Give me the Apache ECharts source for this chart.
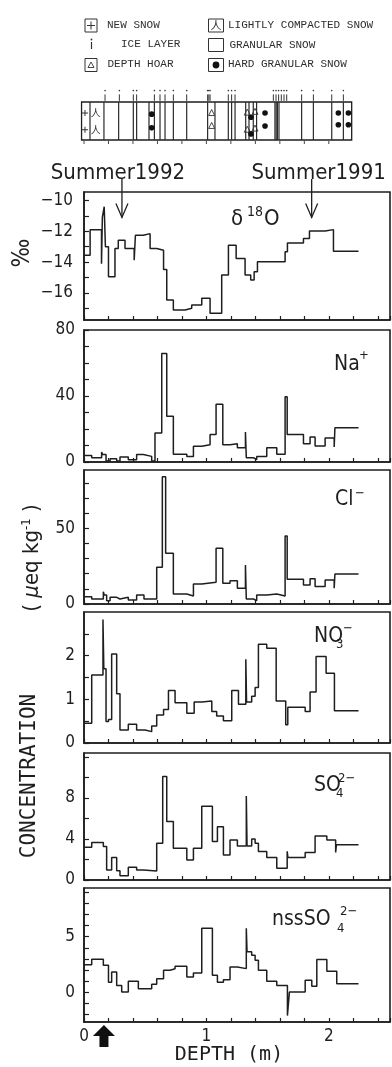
<!DOCTYPE html>
<html><head><meta charset="utf-8">
<script src="https://cdn.jsdelivr.net/npm/echarts@6/dist/echarts.min.js"></script>
<style>html,body{margin:0;padding:0;background:#fff}#c{width:392px;height:1067px}</style>
</head><body><div id="c"></div>
<script>
// ---------- DATA ----------
const depthTickLabels = [0, 1, 2];
// step series: [depth at top of sample (m), value]
const d18O = [[0,-13.55],[0.05,-11.89],[0.143,-14.1],[0.15,-11.1],[0.165,-10.4],[0.175,-13.0],[0.2,-14.95],[0.253,-13.12],[0.28,-12.58],[0.335,-13.12],[0.41,-13.87],[0.42,-12.26],[0.485,-12.15],[0.54,-13.12],[0.594,-13.23],[0.65,-14.47],[0.676,-16.45],[0.73,-17.1],[0.826,-16.99],[0.88,-16.77],[0.962,-16.34],[1.03,-17.31],[1.125,-14.84],[1.18,-12.9],[1.243,-13.76],[1.316,-14.84],[1.362,-15.16],[1.39,-14.62],[1.417,-13.98],[1.643,-13.33],[1.662,-12.75],[1.793,-12.47],[1.842,-11.98],[1.97,-11.89],[2.038,-13.29],[2.243,-13.29]];
const naPlus = [[0,4.0],[0.063,2.6],[0.144,6.1],[0.152,4.6],[0.18,0.6],[0.213,2.0],[0.267,0.6],[0.294,3.0],[0.362,1.4],[0.43,4.5],[0.485,3.4],[0.553,0.6],[0.58,17.6],[0.635,65.8],[0.676,27.7],[0.73,4.7],[0.84,3.4],[0.894,9.5],[0.962,10.5],[1.03,16.6],[1.079,35.0],[1.134,10.5],[1.193,11.1],[1.253,8.7],[1.319,18.2],[1.326,2.6],[1.384,1.4],[1.411,3.4],[1.493,8.7],[1.575,4.7],[1.643,39.5],[1.66,16.6],[1.793,11.1],[1.847,15.2],[1.888,9.7],[1.97,14.6],[2.044,9.1],[2.05,20.7],[2.243,20.7]];
const clMinus = [[0,4.8],[0.063,3.3],[0.158,8.1],[0.165,5.9],[0.185,2.2],[0.213,4.4],[0.267,3.3],[0.294,4.4],[0.362,2.6],[0.43,5.9],[0.49,3.3],[0.594,24.2],[0.64,84],[0.667,33.5],[0.73,6.6],[0.84,5.3],[0.894,13.2],[0.962,14.3],[1.079,36.8],[1.134,13.7],[1.193,15.4],[1.253,10.4],[1.319,25.8],[1.326,3.3],[1.384,2.2],[1.411,5.9],[1.493,6.6],[1.575,5.3],[1.643,44.9],[1.66,16.3],[1.793,12.6],[1.847,16.7],[1.888,11.5],[1.97,15.9],[2.044,10.4],[2.05,19.8],[2.243,19.8]];
const no3Minus = [[0,0.45],[0.063,1.56],[0.155,2.83],[0.162,1.7],[0.18,0.49],[0.2,0.54],[0.226,2.04],[0.267,1.13],[0.294,0.3],[0.362,0.43],[0.43,0.3],[0.499,0.26],[0.553,0.39],[0.594,0.64],[0.65,0.77],[0.69,1.2],[0.744,0.92],[0.84,0.68],[0.9,0.94],[0.962,0.96],[1.044,0.72],[1.084,0.62],[1.139,0.51],[1.207,1.2],[1.262,0.89],[1.322,1.92],[1.328,0.94],[1.37,1.07],[1.398,1.27],[1.425,2.26],[1.493,2.17],[1.57,0.96],[1.648,0.42],[1.665,0.82],[1.807,0.72],[1.847,1.17],[1.896,1.98],[1.978,1.6],[2.046,0.74],[2.243,0.74]];
const so4 = [[0,3.2],[0.063,3.66],[0.158,3.27],[0.185,0.98],[0.226,2.2],[0.267,0.9],[0.294,0.42],[0.362,1.24],[0.43,0.98],[0.485,0.88],[0.594,3.6],[0.643,10.1],[0.676,5.7],[0.73,3.1],[0.84,1.96],[0.894,3.1],[0.962,7.2],[1.049,3.76],[1.09,5.2],[1.139,2.45],[1.193,3.9],[1.253,3.33],[1.326,8.2],[1.332,3.33],[1.37,4.0],[1.398,3.6],[1.425,2.78],[1.493,2.2],[1.575,1.14],[1.66,2.8],[1.666,2.2],[1.807,2.68],[1.888,4.3],[1.984,3.9],[2.056,2.68],[2.062,3.43],[2.243,3.43]];
const nssSo4 = [[0,2.48],[0.063,2.97],[0.158,2.42],[0.2,0.9],[0.226,1.82],[0.267,0.6],[0.308,0],[0.362,0.97],[0.444,0.3],[0.553,0.7],[0.594,1.2],[0.65,1.97],[0.703,2.1],[0.744,2.33],[0.84,1.36],[0.894,1.73],[0.962,5.76],[1.049,1.52],[1.09,0.9],[1.139,1.12],[1.193,2.27],[1.253,2.12],[1.326,5.76],[1.332,3.64],[1.37,3.33],[1.398,2.88],[1.425,1.97],[1.493,0.97],[1.575,0.6],[1.662,-2.12],[1.678,0],[1.807,1.06],[1.861,0.52],[1.902,2.94],[1.984,1.88],[2.065,0.76],[2.243,0.76]];

// y axis ticks and labels per panel
const d18OTicks = [-17,-16,-15,-14,-13,-12,-11,-10], d18OLabels = [-16,-14,-12,-10];
const naTicks = [0,10,20,30,40,50,60,70,80], naLabels = [0,40,80];
const clTicks = [0,10,20,30,40,50,60,70,80], clLabels = [0,50];
const no3Ticks = [0,0.5,1,1.5,2,2.5], no3Labels = [0,1,2];
const so4Ticks = [0,2,4,6,8,10,12], so4Labels = [0,4,8];
const nssTicks = [-2,-1,0,1,2,3,4,5,6,7,8,9], nssLabels = [0,5];

// summer markers
const summerLabels = ['Summer1992', 'Summer1991'];
const summerDepths = [0.31, 1.86];
const surfaceArrowDepth = 0.163;

// stratigraphy column
const stratExtent = [-0.02, 2.187];
const stratLines = [0.049,0.163,0.283,0.403,0.43,0.531,0.575,0.621,0.662,0.73,0.839,1.01,1.07,1.179,1.206,1.234,1.321,1.348,1.383,1.41,1.56,1.57,1.58,1.593,1.778,1.874,2.024,2.119];
const iceLayers = [0.172,0.289,0.403,0.43,0.575,0.621,0.662,0.73,0.839,1.01,1.02,1.03,1.179,1.206,1.234,1.547,1.569,1.59,1.612,1.634,1.656,1.778,1.874,2.024,2.119];
const stratSymbols = [[0.008,0.71,'new'],[0.008,0.27,'new'],[0.095,0.71,'light'],[0.095,0.27,'light'],[0.553,0.68,'hard'],[0.553,0.32,'hard'],[1.043,0.71,'hoar'],[1.043,0.37,'hoar'],[1.334,0.72,'hoar'],[1.334,0.27,'hoar'],[1.364,0.6,'hard'],[1.364,0.16,'hard'],[1.397,0.74,'hoar'],[1.397,0.3,'hoar'],[1.479,0.71,'hard'],[1.479,0.37,'hard'],[2.078,0.71,'hard'],[2.078,0.4,'hard'],[2.16,0.71,'hard'],[2.16,0.4,'hard']];
const stratTicks = [0,0.2,0.4,0.6,0.8,1.0,1.2,1.4,1.6,1.8,2.0];
const legendItems = [['new','NEW SNOW'],['ice','ICE LAYER'],['hoar','DEPTH HOAR'],['light','LIGHTLY COMPACTED SNOW'],['granular','GRANULAR SNOW'],['hard','HARD GRANULAR SNOW']];

// ---------- CHART ----------
const INK = '#1e1e1e';
const NUMFONT = '"DejaVu Sans Condensed", "DejaVu Sans", sans-serif';
const MONO = '"Liberation Mono", "DejaVu Sans Mono", monospace';
const L = 84, W = 306;
const panels = [
  {top:192, height:128, min:-17.75, max:-9.45, ticks:d18OTicks, labels:d18OLabels, data:d18O, margin:11},
  {top:330, height:132, min:0, max:80, ticks:naTicks, labels:naLabels, data:naPlus, margin:9},
  {top:470, height:134, min:0, max:88.5, ticks:clTicks, labels:clLabels, data:clMinus, margin:9},
  {top:612, height:131, min:0, max:3, ticks:no3Ticks, labels:no3Labels, data:no3Minus, margin:9},
  {top:753, height:127, min:0, max:12.4, ticks:so4Ticks, labels:so4Labels, data:so4, margin:9},
  {top:888, height:134, min:-2.7, max:9.4, ticks:nssTicks, labels:nssLabels, data:nssSo4, margin:9}
];
const grids = [], xAxes = [], yAxes = [], series = [];
panels.forEach((p, i) => {
  grids.push({left:L, width:W, top:p.top, height:p.height, show:true, borderColor:INK, borderWidth:1.6});
  xAxes.push({gridIndex:i, type:'value', min:0, max:2.5, interval:0.2,
    axisLine:{onZero:false, lineStyle:{color:INK, width:1.6}},
    axisTick:{inside:true, length:4, lineStyle:{color:INK, width:1.2}},
    axisLabel:{show:i === 5, customValues:depthTickLabels, formatter:v => String(v), fontFamily:NUMFONT, fontSize:17, color:INK, margin:6},
    splitLine:{show:false}});
  yAxes.push({gridIndex:i, type:'value', min:p.min, max:p.max,
    axisLine:{show:true, onZero:false, lineStyle:{color:INK, width:1.6}},
    axisTick:{show:true, inside:true, length:5, customValues:p.ticks, lineStyle:{color:INK, width:1.2}},
    axisLabel:{customValues:p.labels, formatter:v => String(v).replace('-', '\u2212'), fontFamily:NUMFONT, fontSize:17, color:INK, margin:p.margin},
    splitLine:{show:false}});
  series.push({type:'line', xAxisIndex:i, yAxisIndex:i, data:p.data, step:'end', showSymbol:false, silent:true,
    lineStyle:{color:INK, width:1.5}, clip:false});
});
// stratigraphy grid
grids.push({left:L, width:W, top:102, height:38, show:false});
xAxes.push({gridIndex:6, type:'value', min:0, max:2.5, show:false});
yAxes.push({gridIndex:6, type:'value', min:0, max:1, show:false});
series.push({type:'custom', xAxisIndex:6, yAxisIndex:6, silent:true, clip:false, data:[[0,0]],
  renderItem:(params, api) => {
    const P = (x, y) => api.coord([x, y]);
    const ch = [];
    const a = P(stratExtent[0], 1), b = P(stratExtent[1], 0);
    ch.push({type:'rect', shape:{x:a[0], y:a[1], width:b[0]-a[0], height:b[1]-a[1]}, style:{fill:'none', stroke:INK, lineWidth:1.3}});
    stratLines.forEach(d => {
      const t = P(d, 1), u = P(d, 0);
      ch.push({type:'line', shape:{x1:t[0], y1:t[1], x2:u[0], y2:u[1]}, style:{stroke:'#2a2a2a', lineWidth:1.2}});
    });
    iceLayers.forEach(d => {
      const t = P(d, 1.03), u = P(d, 1.2), dot = P(d, 1.3);
      ch.push({type:'line', shape:{x1:t[0], y1:t[1], x2:u[0], y2:u[1]}, style:{stroke:'#333', lineWidth:1}});
      ch.push({type:'circle', shape:{cx:dot[0], cy:dot[1], r:0.8}, style:{fill:'#333'}});
    });
    stratSymbols.forEach(s => {
      const c = P(s[0], s[1]);
      if (s[2] === 'new') {
        ch.push({type:'line', shape:{x1:c[0]-3, y1:c[1], x2:c[0]+3, y2:c[1]}, style:{stroke:'#333', lineWidth:1}});
        ch.push({type:'line', shape:{x1:c[0], y1:c[1]-3, x2:c[0], y2:c[1]+3}, style:{stroke:'#333', lineWidth:1}});
      } else if (s[2] === 'light') {
        ch.push({type:'text', style:{text:'人', x:c[0], y:c[1], align:'center', verticalAlign:'middle', font:'10px "Noto Sans CJK SC"', fill:'#333'}});
      } else if (s[2] === 'hoar') {
        ch.push({type:'polygon', shape:{points:[[c[0], c[1]-3.5],[c[0]-3, c[1]+2.5],[c[0]+3, c[1]+2.5]]}, style:{fill:'none', stroke:'#333', lineWidth:0.9}});
      } else {
        ch.push({type:'circle', shape:{cx:c[0], cy:c[1], r:2.8}, style:{fill:'#111'}});
      }
    });
    stratTicks.forEach(t => {
      const q = P(t, 0);
      ch.push({type:'line', shape:{x1:q[0], y1:q[1]+1, x2:q[0], y2:q[1]+4}, style:{stroke:'#444', lineWidth:1}});
    });
    return {type:'group', children:ch};
  }});

const chart = echarts.init(document.getElementById('c'));
chart.setOption({animation:false, backgroundColor:'#ffffff', grid:grids, xAxis:xAxes, yAxis:yAxes, series:series});

// ---------- annotations ----------
const g = [];
const txt = (text, x, y, font, opts) => Object.assign({type:'text', x:x, y:y, style:Object.assign({text:text, font:font, fill:INK, align:'left', verticalAlign:'middle'}, (opts && opts.style) || {})}, opts && opts.el || {});

// legend
const LEG = '11px ' + MONO;
const boxes = [[85,19,'new'],[85,40,'ice'],[85,58.5,'hoar'],[208.5,19,'light'],[208.5,38.5,'granular'],[208.5,58.5,'hard']];
const textX = [107, 121, 107.5, 228, 229.5, 228];
const textY = [25, 44, 64.5, 25, 45, 64.5];
legendItems.forEach((it, i) => {
  const [bx, by] = boxes[i];
  const t = it[0];
  if (t === 'ice') {
    g.push({type:'line', shape:{x1:91.5, y1:42, x2:91.5, y2:49}, style:{stroke:'#333', lineWidth:1.2}});
    g.push({type:'circle', shape:{cx:91.5, cy:39.5, r:0.9}, style:{fill:'#333'}});
  } else {
    const w = t === 'new' || t === 'hoar' ? 12 : 15, h = 13;
    g.push({type:'rect', shape:{x:bx, y:by, width:w, height:h}, style:{fill:'none', stroke:'#333', lineWidth:1}});
    const cx = bx + w/2, cy = by + h/2;
    if (t === 'new') {
      g.push({type:'line', shape:{x1:cx-4, y1:cy, x2:cx+4, y2:cy}, style:{stroke:'#333', lineWidth:1}});
      g.push({type:'line', shape:{x1:cx, y1:cy-4, x2:cx, y2:cy+4}, style:{stroke:'#333', lineWidth:1}});
    } else if (t === 'hoar') {
      g.push({type:'polygon', shape:{points:[[cx, cy-3],[cx-3, cy+2.5],[cx+3, cy+2.5]]}, style:{fill:'none', stroke:'#333', lineWidth:0.9}});
    } else if (t === 'light') {
      g.push(txt('人', cx, cy, '11px "Noto Sans CJK SC"', {style:{align:'center', fill:'#333'}}));
    } else if (t === 'hard') {
      g.push({type:'circle', shape:{cx:cx, cy:cy, r:3.4}, style:{fill:'#111'}});
    }
  }
  g.push(txt(it[1], textX[i], textY[i], LEG, {style:{fill:'#2e2e2e'}}));
});

// summer arrows
summerDepths.forEach((d, i) => {
  const top = chart.convertToPixel({gridIndex:0}, [d, -8.6]);
  const tip = chart.convertToPixel({gridIndex:0}, [d, -11.1]);
  g.push({type:'line', shape:{x1:top[0], y1:top[1], x2:tip[0], y2:tip[1]}, style:{stroke:INK, lineWidth:1.3}});
  g.push({type:'polyline', shape:{points:[[tip[0]-6, tip[1]-14],[tip[0], tip[1]],[tip[0]+6, tip[1]-14]]}, style:{stroke:INK, lineWidth:1.3, fill:'none'}});
  g.push(txt(summerLabels[i], tip[0] + (i === 0 ? -4 : 7), 173, '22px ' + NUMFONT, {style:{align:'center'}}));
});

// panel labels
const LAB = '21px ' + NUMFONT, SUP = '13px ' + NUMFONT;
g.push(txt('δ', 231, 219, '22px ' + NUMFONT));
g.push(txt('18', 247, 212, '14px ' + NUMFONT));
g.push(txt('O', 264, 219, '22px ' + NUMFONT));
g.push(txt('Na', 334, 365, LAB));
g.push(txt('+', 359, 356, SUP));
g.push(txt('Cl', 335, 500, LAB));
g.push(txt('\u2212', 355, 494, SUP));
g.push(txt('NO', 314, 637, LAB));
g.push(txt('3', 336, 645, SUP));
g.push(txt('\u2212', 343, 629, SUP));
g.push(txt('SO', 314, 786, LAB));
g.push(txt('4', 336, 794, SUP));
g.push(txt('2\u2212', 338, 779, SUP));
g.push(txt('nssSO', 272, 920, LAB));
g.push(txt('4', 337, 929, SUP));
g.push(txt('2\u2212', 340, 912, SUP));

// axis titles
g.push({type:'text', x:23, y:253, rotation:Math.PI/2, style:{text:'‰', font:'24px ' + NUMFONT, fill:INK, align:'center', verticalAlign:'middle'}});
g.push({type:'text', x:32, y:558, rotation:Math.PI/2, style:{text:'( {i|μ}eq kg{s|-1} )', font:'22px ' + NUMFONT, fill:INK, align:'center', verticalAlign:'middle',
  rich:{i:{font:'italic 22px ' + NUMFONT, fill:INK}, s:{font:'13px ' + NUMFONT, fill:INK, verticalAlign:'top', padding:[0,0,10,0]}}}});
g.push({type:'text', x:30, y:776, rotation:Math.PI/2, style:{text:'CONCENTRATION', font:'21px "DejaVu Sans Mono", monospace', fill:INK, align:'center', verticalAlign:'middle'}});

// depth axis title & surface arrow
const base = chart.convertToPixel({gridIndex:5}, [surfaceArrowDepth, -2.7]);
const ax = base[0], ay = base[1];
g.push({type:'polygon', shape:{points:[[ax, ay+3],[ax-11, ay+14],[ax-4.5, ay+14],[ax-4.5, ay+25],[ax+4.5, ay+25],[ax+4.5, ay+14],[ax+11, ay+14]]}, style:{fill:'#111'}});
g.push(txt('DEPTH (m)', 229, 1055, '20px "DejaVu Sans Mono", monospace', {style:{align:'center'}}));

chart.setOption({graphic:g});
</script></body></html>
